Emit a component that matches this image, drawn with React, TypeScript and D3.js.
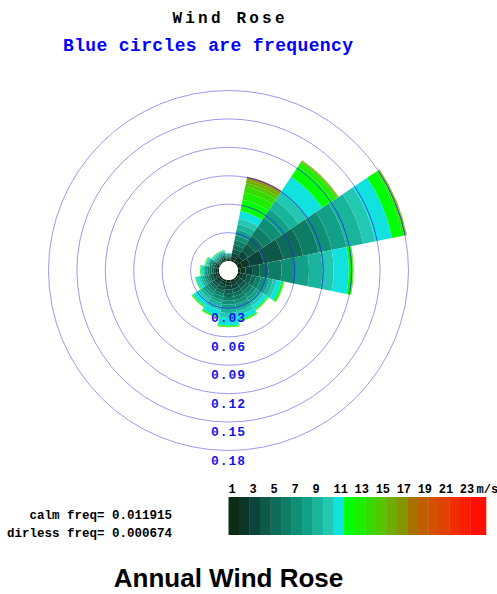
import { useEffect, useRef } from 'react';
import * as d3 from 'd3';

// 16 compass sectors, clockwise from north
const directions = ['N', 'NNE', 'NE', 'ENE', 'E', 'ESE', 'SE', 'SSE', 'S', 'SSW', 'SW', 'WSW', 'W', 'WNW', 'NW', 'NNW'];

// cumulative frequency by speed bin (1 m/s steps) for each sector
const cumN = [0.001, 0.002, 0.003, 0.004, 0.005, 0.006, 0.007, 0.0075, 0.008, 0.0083, 0.0085];
const cumNNE = [0.002, 0.005, 0.009, 0.013, 0.018, 0.023, 0.028, 0.034, 0.04, 0.046, 0.054, 0.066, 0.074, 0.08, 0.084, 0.087, 0.089, 0.09, 0.0905, 0.091];
const cumNE = [0.003, 0.008, 0.015, 0.024, 0.034, 0.045, 0.057, 0.068, 0.079, 0.09, 0.109, 0.122, 0.126, 0.128, 0.129, 0.1295, 0.13];
const cumENE = [0.005, 0.013, 0.028, 0.049, 0.07, 0.087, 0.101, 0.117, 0.135, 0.148, 0.166, 0.177, 0.179, 0.18, 0.181, 0.1815, 0.182];
const cumE = [0.003, 0.008, 0.015, 0.023, 0.032, 0.046, 0.06, 0.075, 0.089, 0.101, 0.117, 0.12, 0.121, 0.1215, 0.122];
const cumESE = [0.003, 0.006, 0.01, 0.015, 0.02, 0.025, 0.03, 0.034, 0.038, 0.042, 0.047, 0.049, 0.0495, 0.05];
const cumSE = [0.002, 0.005, 0.009, 0.013, 0.017, 0.021, 0.025, 0.029, 0.032, 0.035, 0.039, 0.04, 0.0405, 0.041];
const cumSSE = [0.003, 0.006, 0.01, 0.014, 0.018, 0.022, 0.026, 0.03, 0.034, 0.038, 0.043, 0.044, 0.0445, 0.045];
const cumS = [0.003, 0.006, 0.01, 0.014, 0.018, 0.022, 0.026, 0.03, 0.035, 0.04, 0.048, 0.049, 0.0495, 0.05];
const cumSSW = [0.002, 0.005, 0.008, 0.012, 0.015, 0.018, 0.022, 0.025, 0.029, 0.033, 0.039, 0.04, 0.0405, 0.041];
const cumSW = [0.002, 0.005, 0.008, 0.011, 0.014, 0.017, 0.02, 0.023, 0.026, 0.029, 0.035, 0.036, 0.0365, 0.037];
const cumWSW = [0.002, 0.004, 0.007, 0.01, 0.012, 0.014, 0.016, 0.018, 0.02, 0.022, 0.025, 0.0255, 0.026];
const cumW = [0.002, 0.004, 0.006, 0.008, 0.01, 0.012, 0.014, 0.015, 0.016, 0.017, 0.019, 0.0195, 0.02];
const cumWNW = [0.001, 0.003, 0.005, 0.006, 0.008, 0.009, 0.011, 0.012, 0.013, 0.014, 0.015, 0.0155, 0.016];
const cumNW = [0.001, 0.002, 0.003, 0.004, 0.005, 0.006, 0.007, 0.008, 0.009, 0.01, 0.0112, 0.0115, 0.0118, 0.012];
const cumNNW = [0.001, 0.003, 0.004, 0.005, 0.006, 0.007, 0.008, 0.009, 0.01, 0.011, 0.0115, 0.012];

const sectorCums = [cumN, cumNNE, cumNE, cumENE, cumE, cumESE, cumSE, cumSSE, cumS, cumSSW, cumSW, cumWSW, cumW, cumWNW, cumNW, cumNNW];

const speedColors = [
  '#0c2c14', '#0b3626', '#0c433c', '#0d5847', '#0e6b57', '#0e7d66', '#0f8f76', '#12a188',
  '#18b49b', '#22c8b2', '#12e2df', '#00ff00', '#1cee00', '#36da00', '#52c600', '#6eae00',
  '#869600', '#a87200', '#be5f00', '#d25000', '#e14100', '#f02d00', '#fa1e00', '#ff0f00',
];
const speedLabels = ['1', '3', '5', '7', '9', '11', '13', '15', '17', '19', '21', '23'];
const freqTicks = [0.03, 0.06, 0.09, 0.12, 0.15, 0.18];

const calmFreq = 0.011915;
const dirlessFreq = 0.000674;

const mono = '"Liberation Mono", "Courier New", monospace';

const WindRose = () => {
  const ref = useRef<SVGSVGElement>(null);

  useEffect(() => {
    const svg = d3.select(ref.current);
    svg.selectAll('*').remove();

    const width = 497;
    const height = 594;
    const cx = 228.5;
    const cy = 270.5;

    svg.append('rect').attr('width', width).attr('height', height).attr('fill', '#fff');

    // radius grows from the calm circle outward
    const r = d3.scaleLinear().domain([0, 0.18]).range([9.5, 180]);
    const step = (2 * Math.PI) / directions.length;
    const arc = d3.arc<any>();

    // clip of the whole rose, so the circles show darker over the petals
    svg.append('defs')
      .append('clipPath')
      .attr('id', 'rose-clip')
      .selectAll('path')
      .data(sectorCums)
      .enter()
      .append('path')
      .attr('d', (cums, i) =>
        arc({
          innerRadius: 0,
          outerRadius: r(cums[cums.length - 1]),
          startAngle: i * step - step / 2,
          endAngle: i * step + step / 2,
        })
      );

    const g = svg.append('g').attr('transform', `translate(${cx},${cy})`);

    // light circles underneath
    g.selectAll('circle.grid')
      .data(freqTicks)
      .enter()
      .append('circle')
      .attr('class', 'grid')
      .attr('r', (d) => r(d))
      .attr('fill', 'none')
      .attr('stroke', '#9a9af2')
      .attr('stroke-width', 1);

    sectorCums.forEach((cums, i) => {
      const a0 = i * step - step / 2;
      const a1 = i * step + step / 2;
      cums.forEach((c, k) => {
        const prev = k === 0 ? 0 : cums[k - 1];
        g.append('path')
          .attr(
            'd',
            arc({ innerRadius: r(prev), outerRadius: r(c), startAngle: a0, endAngle: a1 })
          )
          .attr('fill', speedColors[k]);
      });
    });

    // circles again, only inside the petals
    g.append('g')
      .attr('clip-path', 'url(#rose-clip)')
      .selectAll('circle')
      .data(freqTicks)
      .enter()
      .append('circle')
      .attr('r', (d) => r(d))
      .attr('fill', 'none')
      .attr('stroke', '#1f2fd8')
      .attr('stroke-opacity', 0.8)
      .attr('stroke-width', 1);

    g.append('circle').attr('r', r(0)).attr('fill', '#fff');

    g.selectAll('text.tick')
      .data(freqTicks)
      .enter()
      .append('text')
      .attr('class', 'tick')
      .attr('x', 0)
      .attr('y', (d) => r(d) + 14)
      .attr('text-anchor', 'middle')
      .attr('font-family', mono)
      .attr('font-weight', 'bold')
      .attr('font-size', 13)
      .attr('letter-spacing', 1)
      .attr('fill', '#1414ee')
      .text((d) => d.toFixed(2));

    // titles
    svg.append('text')
      .attr('x', cx)
      .attr('y', 23)
      .attr('text-anchor', 'middle')
      .attr('font-family', mono)
      .attr('font-weight', 'bold')
      .attr('font-size', 16)
      .attr('textLength', 112)
      .attr('lengthAdjust', 'spacing')
      .attr('fill', '#000')
      .text('Wind Rose');

    svg.append('text')
      .attr('x', 208)
      .attr('y', 51)
      .attr('text-anchor', 'middle')
      .attr('font-family', mono)
      .attr('font-weight', 'bold')
      .attr('font-size', 18)
      .attr('textLength', 290)
      .attr('lengthAdjust', 'spacing')
      .attr('fill', '#0000ff')
      .text('Blue circles are frequency');

    // calm / dirless
    const info = [`calm freq= ${calmFreq.toFixed(6)}`, `dirless freq= ${dirlessFreq.toFixed(6)}`];
    svg.selectAll('text.info')
      .data(info)
      .enter()
      .append('text')
      .attr('class', 'info')
      .attr('x', 172)
      .attr('y', (_, i) => 519 + i * 18)
      .attr('text-anchor', 'end')
      .attr('font-family', mono)
      .attr('font-weight', 'bold')
      .attr('font-size', 12.5)
      .attr('fill', '#000')
      .text((d) => d);

    // speed colour bar
    const lx = d3.scaleLinear().domain([0, 24.5]).range([228.5, 486]);
    svg.selectAll('rect.band')
      .data(speedColors)
      .enter()
      .append('rect')
      .attr('class', 'band')
      .attr('x', (_, i) => lx(i))
      .attr('y', 497)
      .attr('width', (_, i) => lx(i === speedColors.length - 1 ? 24.5 : i + 1) - lx(i) + 0.3)
      .attr('height', 38)
      .attr('fill', (d) => d);

    svg.selectAll('text.speed')
      .data(speedLabels)
      .enter()
      .append('text')
      .attr('class', 'speed')
      .attr('x', (d) => lx(+d - 1))
      .attr('y', 493)
      .attr('font-family', mono)
      .attr('font-weight', 'bold')
      .attr('font-size', 12)
      .attr('fill', '#000')
      .text((d) => d);

    svg.append('text')
      .attr('x', lx(23.6))
      .attr('y', 493)
      .attr('font-family', mono)
      .attr('font-weight', 'bold')
      .attr('font-size', 12)
      .attr('fill', '#000')
      .text('m/s');

    svg.append('text')
      .attr('x', cx)
      .attr('y', 587)
      .attr('text-anchor', 'middle')
      .attr('font-family', '"Liberation Sans", Arial, sans-serif')
      .attr('font-weight', 'bold')
      .attr('font-size', 26)
      .attr('fill', '#000')
      .text('Annual Wind Rose');
  }, []);

  return (
    <svg
      ref={ref}
      width={497}
      height={594}
      style={{ position: 'absolute', left: 0, top: 0, display: 'block' }}
    ></svg>
  );
};

export default function App() {
  return <WindRose />;
}
